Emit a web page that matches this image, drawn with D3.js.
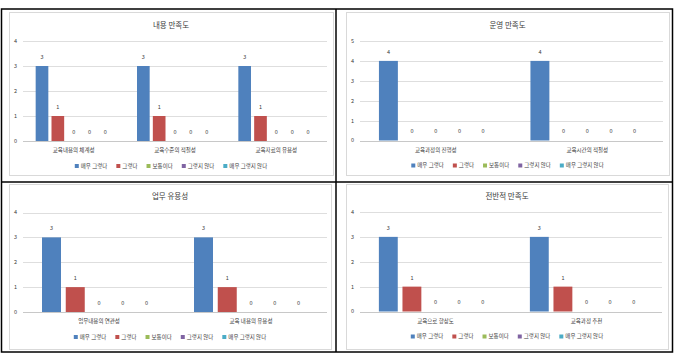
<!DOCTYPE html>
<html><head><meta charset="utf-8">
<script src="https://cdn.jsdelivr.net/npm/d3@7/dist/d3.min.js"></script>
<style>html,body{margin:0;padding:0;background:#fff;}svg{display:block;}</style>
</head><body>
<svg id="c" width="681" height="359"></svg>
<script>
// ---- data ----
const seriesNames = ["매우 그렇다", "그렇다", "보통이다", "그렇지 않다", "매우 그렇지 않다"];
const seriesColors = ["#4F81BD", "#C0504D", "#9BBB59", "#8064A2", "#4BACC6"];

const title1 = "내용 만족도";
const cats1 = ["교육내용의 체계성", "교육수준의 적절성", "교육자료의 유용성"];
const vals1 = [[3, 1, 0, 0, 0], [3, 1, 0, 0, 0], [3, 1, 0, 0, 0]];
const yTicks1 = [0, 1, 2, 3, 4];

const title2 = "운영 만족도";
const cats2 = ["교육과정의 진행성", "교육시간의 적절성"];
const vals2 = [[4, 0, 0, 0, 0], [4, 0, 0, 0, 0]];
const yTicks2 = [0, 1, 2, 3, 4, 5];

const title3 = "업무 유용성";
const cats3 = ["업무내용의 연관성", "교육 내용의 유용성"];
const vals3 = [[3, 1, 0, 0, 0], [3, 1, 0, 0, 0]];
const yTicks3 = [0, 1, 2, 3, 4];

const title4 = "전반적 만족도";
const cats4 = ["교육으로 향상도", "교육과정 추천"];
const vals4 = [[3, 1, 0, 0, 0], [3, 1, 0, 0, 0]];
const yTicks4 = [0, 1, 2, 3, 4];

// ---- layout ----
const panels = [
  {title: title1, cats: cats1, vals: vals1, ticks: yTicks1, box: [9, 12, 333, 175], plot: [23, 41, 327, 141]},
  {title: title2, cats: cats2, vals: vals2, ticks: yTicks2, box: [346, 12, 669, 175], plot: [360, 41, 663, 140.5]},
  {title: title3, cats: cats3, vals: vals3, ticks: yTicks3, box: [9, 184, 331, 349], plot: [23, 212.5, 327, 312]},
  {title: title4, cats: cats4, vals: vals4, ticks: yTicks4, box: [346, 184, 668, 349], plot: [360, 212, 662, 311.5]}
];

const FONT = "'Noto Sans CJK KR', 'Noto Sans', sans-serif";
const TXT = "#3a3a3a";
const svg = d3.select("#c");

panels.forEach(p => {
  const g = svg.append("g");
  const [bx0, by0, bx1, by1] = p.box;
  const [px0, py0, px1, py1] = p.plot;

  g.append("rect").attr("x", bx0 + 0.5).attr("y", by0 + 0.5)
    .attr("width", bx1 - bx0).attr("height", by1 - by0)
    .attr("fill", "#fff").attr("stroke", "#d9d9d9").attr("stroke-width", 1);

  const yMax = d3.max(p.ticks);
  const y = d3.scaleLinear().domain([0, yMax]).range([py1, py0]);
  const x0 = d3.scaleBand().domain(p.cats).range([px0, px1]).padding(0);
  const gw = x0.bandwidth() * 0.75;
  const x1 = d3.scaleBand().domain(seriesNames).range([0, gw]).paddingInner(0.2).paddingOuter(0);

  // gridlines
  g.append("g").selectAll("line").data(p.ticks).join("line")
    .attr("x1", px0).attr("x2", px1)
    .attr("y1", d => Math.round(y(d)) + 0.5).attr("y2", d => Math.round(y(d)) + 0.5)
    .attr("stroke", d => d === 0 ? "#c8c8c8" : "#dedede").attr("stroke-width", 1);

  // y tick labels
  g.append("g").selectAll("text").data(p.ticks).join("text")
    .attr("x", px0 - 6).attr("y", d => y(d)).attr("dy", "0.35em")
    .attr("text-anchor", "end").attr("font-family", FONT).attr("font-size", 5.5)
    .attr("fill", TXT).text(d => d);

  // title
  g.append("text").attr("x", (bx0 + bx1) / 2).attr("y", py0 - 16).attr("dy", "0.35em")
    .attr("text-anchor", "middle").attr("font-family", FONT).attr("font-size", 7.5)
    .attr("fill", TXT).text(p.title);

  // bars
  const groups = g.append("g").selectAll("g").data(p.cats).join("g")
    .attr("transform", d => `translate(${x0(d) + (x0.bandwidth() - gw) / 2},0)`);
  groups.each(function(cat, ci) {
    const gg = d3.select(this);
    const rows = seriesNames.map((s, si) => ({s, si, v: p.vals[ci][si]}));
    gg.selectAll("rect").data(rows.filter(r => r.v > 0)).join("rect")
      .attr("x", r => x1(r.s)).attr("width", x1.bandwidth())
      .attr("y", r => y(r.v)).attr("height", r => y(0) - y(r.v))
      .attr("fill", r => seriesColors[r.si]);
    gg.selectAll("text").data(rows).join("text")
      .attr("x", r => x1(r.s) + x1.bandwidth() / 2).attr("y", r => y(r.v) - 9).attr("dy", "0.35em")
      .attr("text-anchor", "middle").attr("font-family", FONT).attr("font-size", 5.5)
      .attr("fill", TXT).text(r => r.v);
  });

  // category labels
  g.append("g").selectAll("text").data(p.cats).join("text")
    .attr("x", d => x0(d) + x0.bandwidth() / 2).attr("y", py1 + 9.5).attr("dy", "0.35em")
    .attr("text-anchor", "middle").attr("font-family", FONT).attr("font-size", 5.5)
    .attr("fill", TXT).text(d => d);

  // legend
  const lg = g.append("g");
  let cx = 0;
  const ly = py1 + 25;
  seriesNames.forEach((s, i) => {
    const it = lg.append("g").attr("transform", `translate(${cx},0)`);
    it.append("rect").attr("x", 0).attr("y", ly - 2).attr("width", 4).attr("height", 4).attr("fill", seriesColors[i]);
    const t = it.append("text").attr("x", 6).attr("y", ly).attr("dy", "0.35em")
      .attr("font-family", FONT).attr("font-size", 5.5).attr("fill", TXT).text(s);
    cx += 6 + t.node().getComputedTextLength() + 9;
  });
  const lw = cx - 9;
  lg.attr("transform", `translate(${(bx0 + bx1) / 2 - lw / 2},0)`);
});

// black frame
const frame = svg.append("g").attr("stroke", "#000").attr("stroke-width", 1.5).attr("fill", "none");
frame.append("rect").attr("x", 1.5).attr("y", 9).attr("width", 671).attr("height", 343);
frame.append("line").attr("x1", 336).attr("x2", 336).attr("y1", 9).attr("y2", 352);
frame.append("line").attr("x1", 1.5).attr("x2", 672.5).attr("y1", 182).attr("y2", 182);
</script>
</body></html>
